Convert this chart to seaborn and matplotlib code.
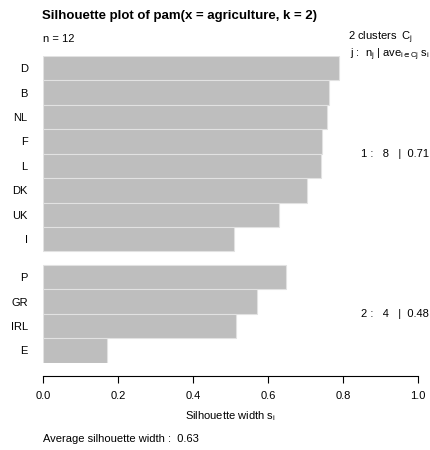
import pandas as pd
import seaborn as sns
import matplotlib.pyplot as plt
import matplotlib.transforms as mtransforms

# silhouette values, already sorted within clusters
paises = ['D', 'B', 'NL', 'F', 'L', 'DK', 'UK', 'I', 'P', 'GR', 'IRL', 'E']
cluster = [1, 1, 1, 1, 1, 1, 1, 1, 2, 2, 2, 2]
largura = [0.790, 0.763, 0.758, 0.744, 0.742, 0.705, 0.630, 0.510,
           0.649, 0.572, 0.514, 0.171]
media_cluster = {1: 0.71, 2: 0.48}
media_total = 0.63
ticks_x = [0.0, 0.2, 0.4, 0.6, 0.8, 1.0]

sns.set_style('white')
plt.rcParams['font.family'] = ['Liberation Sans', 'DejaVu Sans']
plt.rcParams['text.color'] = 'black'
plt.rcParams['axes.labelcolor'] = 'black'
plt.rcParams['xtick.color'] = 'black'
plt.rcParams['ytick.color'] = 'black'
plt.rcParams['mathtext.fontset'] = 'custom'
plt.rcParams['mathtext.rm'] = 'Liberation Sans'
plt.rcParams['mathtext.it'] = 'Liberation Sans'
plt.rcParams['mathtext.default'] = 'regular'

# posições verticais com um espaço entre os clusters
gap = 0.56
pos = []
y = 0.0
for i, c in enumerate(cluster):
    if i > 0 and c != cluster[i - 1]:
        y += gap
    pos.append(y)
    y += 1

df = pd.DataFrame({'pais': paises, 'cluster': cluster, 'sil': largura, 'pos': pos})

fig = plt.figure(figsize=(4.3, 4.5), dpi=100)
ax = fig.add_axes([0.1, 0.194, 0.872, 0.6816])

sns.barplot(data=df, x='sil', y='pos', orient='h', native_scale=True,
            width=1.0, color='#bebebe', saturation=1,
            edgecolor='#e2e2e2', linewidth=0.8, ax=ax)

# eixo: só a linha de baixo, afastada das barras (antes dos ticks, pois reseta)
for s in ['top', 'right', 'left']:
    ax.spines[s].set_visible(False)
ax.spines['bottom'].set_position(('outward', 9.6))
ax.spines['bottom'].set_color('black')
ax.spines['bottom'].set_linewidth(0.8)

ax.set_xlim(0, 1)
ax.set_ylim(pos[-1] + 0.5, -0.5)
ax.set_yticks(pos)
ax.set_yticklabels(paises, fontsize=8)
ax.tick_params(axis='y', length=0, pad=11)
ax.set_xticks(ticks_x)
ax.set_xticklabels([f'{t:.1f}' for t in ticks_x], fontsize=8)
ax.tick_params(axis='x', length=5, width=0.8, pad=6, direction='out', bottom=True)
ax.set_xlabel('Silhouette width $s_i$', fontsize=8, labelpad=6)
ax.set_ylabel('')

# rótulos de cada cluster à direita
trans = mtransforms.blended_transform_factory(fig.transFigure, ax.transData)
for c in sorted(media_cluster):
    p = df.loc[df['cluster'] == c, 'pos']
    meio = (p.min() + p.max()) / 2
    n = len(p)
    fig.text(429 / 430, meio, f'{c} :   {n}   |  {media_cluster[c]:.2f}', transform=trans,
             fontsize=8, ha='right', va='center')

fig.text(42 / 430, 1 - 16 / 450, 'Silhouette plot of pam(x = agriculture, k = 2)',
         fontsize=9.5, fontweight='bold', va='center', ha='left')
fig.text(43 / 430, 1 - 42 / 450, 'n = 12', fontsize=8, va='baseline', ha='left')
fig.text(413 / 430, 1 - 40.5 / 450, '2 clusters  $C_j$', fontsize=8, va='baseline', ha='right')
fig.text(1.0, 1 - 57 / 450, r'j :  n$_j$ | ave$_{i\in Cj}$ s$_i$', fontsize=8, va='baseline', ha='right')
fig.text(43 / 430, 1 - 439 / 450, f'Average silhouette width :  {media_total:.2f}',
         fontsize=8, va='center', ha='left')

fig.savefig('out.png', dpi=100)
